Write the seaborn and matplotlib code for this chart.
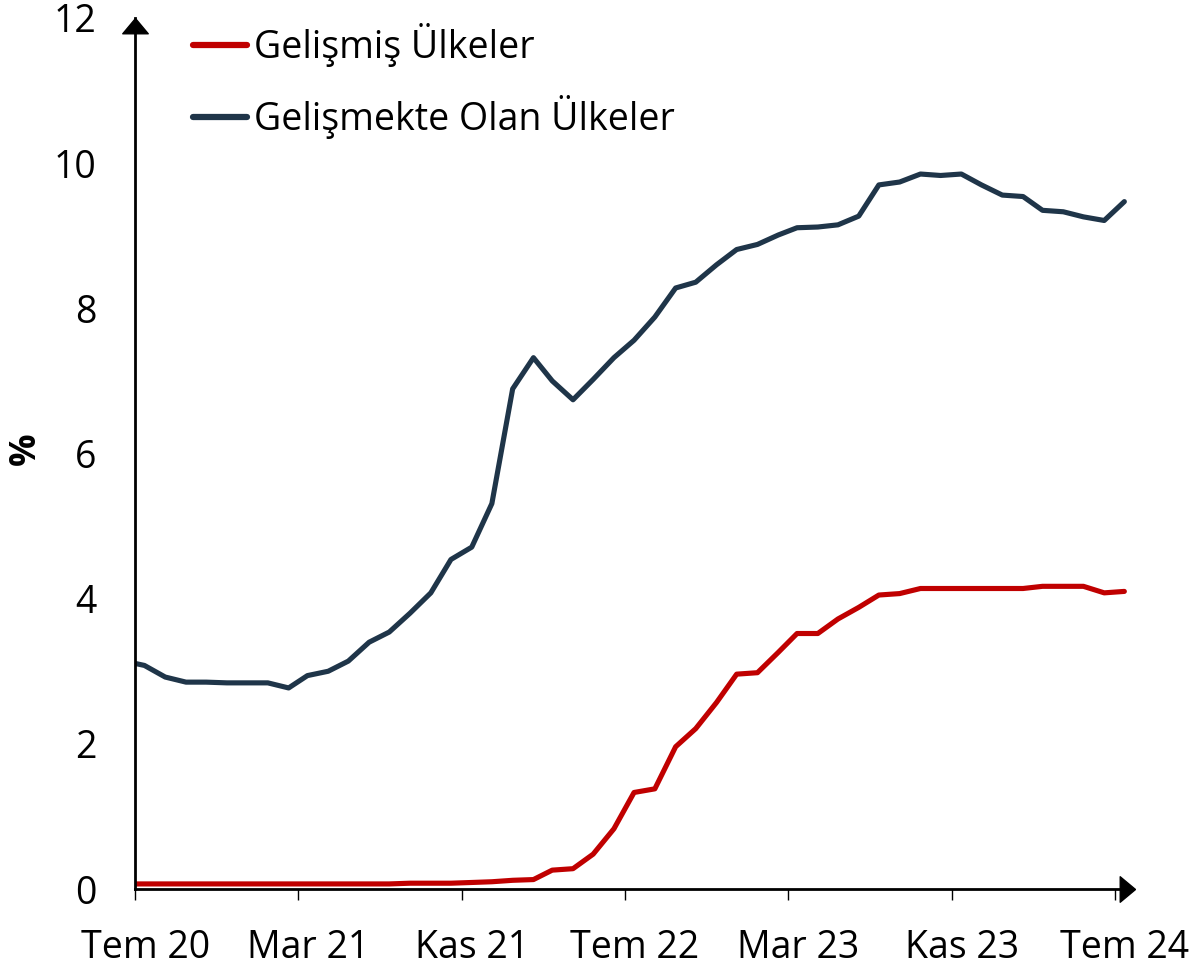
import pandas as pd
import numpy as np
import matplotlib.pyplot as plt
import seaborn as sns

# monthly observations, mid-month, Jun 2020 .. Jul 2024
dates = pd.date_range("2020-06-01", "2024-07-01", freq="MS") + pd.Timedelta(days=14)

gelismis = [
    0.07, 0.07, 0.07, 0.07, 0.07, 0.07, 0.07, 0.07, 0.07, 0.07,
    0.07, 0.07, 0.07, 0.07, 0.08, 0.08, 0.08, 0.09, 0.10, 0.12,
    0.13, 0.26, 0.28, 0.48, 0.83, 1.33, 1.38, 1.96, 2.21, 2.57,
    2.96, 2.98, 3.26, 3.52, 3.52, 3.72, 3.88, 4.05, 4.07, 4.14,
    4.14, 4.14, 4.14, 4.14, 4.14, 4.17, 4.17, 4.17, 4.08, 4.10,
]
gelismekte = [
    3.14, 3.08, 2.92, 2.85, 2.85, 2.84, 2.84, 2.84, 2.77, 2.94,
    3.00, 3.14, 3.40, 3.54, 3.80, 4.08, 4.54, 4.71, 5.31, 6.89,
    7.32, 7.00, 6.74, 7.02, 7.32, 7.56, 7.88, 8.28, 8.36, 8.60,
    8.81, 8.88, 9.01, 9.11, 9.12, 9.15, 9.27, 9.70, 9.74, 9.85,
    9.83, 9.85, 9.70, 9.56, 9.54, 9.35, 9.33, 9.26, 9.21, 9.47,
]

series_names = ["Gelişmiş Ülkeler", "Gelişmekte Olan Ülkeler"]
series_colors = ["#C00000", "#1F3549"]

tick_dates = ["2020-07-01", "2021-03-01", "2021-11-01", "2022-07-01",
              "2023-03-01", "2023-11-01", "2024-07-01"]
tick_labels = ["Tem 20", "Mar 21", "Kas 21", "Tem 22", "Mar 23", "Kas 23", "Tem 24"]
y_ticks = [0, 2, 4, 6, 8, 10, 12]

df = pd.concat([
    pd.DataFrame({"date": dates, "value": gelismis, "series": series_names[0]}),
    pd.DataFrame({"date": dates, "value": gelismekte, "series": series_names[1]}),
])

sns.set_style("ticks")
plt.rcParams["font.family"] = ["Open Sans", "DejaVu Sans"]
plt.rcParams["text.color"] = "black"
plt.rcParams["xtick.color"] = "black"
plt.rcParams["ytick.color"] = "black"
plt.rcParams["axes.labelcolor"] = "black"

FS = 27

fig = plt.figure(figsize=(11.93, 9.66), dpi=100)
ax = fig.add_axes([0.1132, 0.0797, 0.8315, 0.9017])

sns.lineplot(data=df, x="date", y="value", hue="series", hue_order=series_names,
             palette=series_colors, linewidth=3.7, ax=ax)

ax.set_xlim(pd.Timestamp("2020-07-01"), pd.Timestamp("2024-07-19"))
ax.set_ylim(0, 12)

# unlabeled major ticks at month start, labels at mid-month
major = pd.to_datetime(tick_dates)
ax.set_xticks(major)
ax.set_xticklabels([""] * len(major))
ax.set_xticks(major + pd.Timedelta(days=15), minor=True)
ax.set_xticklabels(tick_labels, minor=True, fontsize=FS)
ax.tick_params(axis="x", which="major", length=8, width=1, direction="out", color="black")
ax.tick_params(axis="x", which="minor", length=0, pad=29)

ax.set_yticks(y_ticks)
ax.set_yticklabels([str(v) for v in y_ticks], fontsize=FS)
ax.tick_params(axis="y", length=0, pad=28)

ax.set_xlabel("")
ax.set_ylabel("%", fontsize=FS - 1, fontweight="bold", labelpad=4)
ax.yaxis.set_label_coords(-0.092, 0.505)

sns.despine(ax=ax)
for side in ["left", "bottom"]:
    ax.spines[side].set_linewidth(2)
    ax.spines[side].set_color("black")

# arrow heads at the axis ends
right_arrow = [(0, 0), (-1.2, -1), (-1.2, 1), (0, 0)]
up_arrow = [(0, 0), (-1, -1.2), (1, -1.2), (0, 0)]
ax.plot([1.008], [0], marker=right_arrow, markersize=22, color="black",
        transform=ax.transAxes, clip_on=False)
ax.plot([0], [1.0], marker=up_arrow, markersize=22, color="black",
        transform=ax.transAxes, clip_on=False)

handles, labels = ax.get_legend_handles_labels()
ax.legend(handles, labels, loc="upper left", bbox_to_anchor=(0.1618, 0.976),
          bbox_transform=fig.transFigure, frameon=False, fontsize=FS,
          handlelength=1.45, handletextpad=0.17, labelspacing=0.74,
          borderpad=0, borderaxespad=0)
for line in ax.get_legend().get_lines():
    line.set_linewidth(4.5)
    line.set_solid_capstyle("round")

fig.savefig("out.png", dpi=100)
